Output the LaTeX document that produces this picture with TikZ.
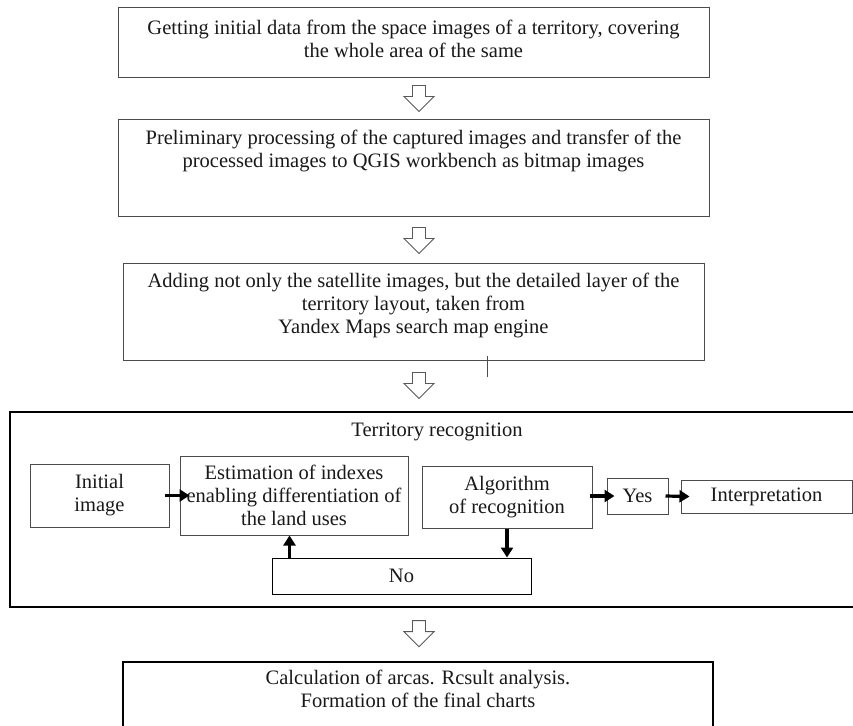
\documentclass[tikz,border=0pt]{standalone}
\usepackage{fontspec}
\setmainfont{Liberation Serif}
\usetikzlibrary{arrows.meta,calc}
\begin{document}
\begin{tikzpicture}[x=1pt,y=-1pt,
  box/.style={draw=black!70, line width=1pt, inner sep=0pt, align=center,
    font=\fontsize{20.5}{23}\selectfont, text=black!90},
  bbox/.style={box, draw=black, line width=1.3pt},
  txt/.style={align=center, font=\fontsize{20.5}{23}\selectfont, text=black!90, inner sep=0pt},
  flow/.style={line width=3.2pt, -{Triangle[length=10pt,width=12pt]}},
  hollow/.style={draw=black!65, line width=0.9pt, fill=white, line join=miter},
  harrow/.pic={\draw[hollow] (-6.5,0) -- (6.5,0) -- (6.5,11) -- (15,11) -- (0,26) -- (-15,11) -- (-6.5,11) -- cycle;}
]
\clip (0,0) rectangle (853,725);
\fill[white] (0,0) rectangle (853,725);

% main boxes
\node[box, minimum width=591, minimum height=69] (b1) at (413.5,42.5) {};
\node[box, minimum width=591, minimum height=97] (b2) at (413.5,167.5) {};
\node[box, minimum width=581, minimum height=97] (b3) at (413.5,311.5) {};
\node[bbox, minimum width=870, minimum height=195] (outer) at (445,509.5) {};
\node[bbox, minimum width=590, minimum height=90] (b5) at (418,707) {};

\node[txt] (t1) at (413.5,38.5) {Getting initial data from the space images of a territory, covering\\the whole area of the same};
\node[txt] (t2) at (413.5,151) {Preliminary processing of the captured images and transfer of the\\processed images to QGIS workbench as bitmap images};
\node[txt] (t3) at (413.5,305) {Adding not only the satellite images, but the detailed layer of the\\territory layout, taken from\\Yandex Maps search map engine};
\node[txt] (t4) at (437,432) {Territory recognition};
\node[txt] (t5) at (418,689) {Calculation of arcas. Rcsult analysis.\\Formation of the final charts};

% inner boxes
\node[box, minimum width=139, minimum height=63] (init) at (99.5,495.5) {Initial\\image};
\node[box, minimum width=228, minimum height=79] (est) at (294,495.5) {Estimation of indexes\\enabling differentiation of\\the land uses};
\node[box, minimum width=170, minimum height=62] (alg) at (507,497) {Algorithm\\of recognition};
\node[box, minimum width=61, minimum height=36] (yes) at (637.5,496) {Yes};
\node[box, minimum width=171, minimum height=33] (interp) at (766.5,496.5) {Interpretation};
\node[box, draw=black, minimum width=259, minimum height=36] (no) at (401.5,576) {No};

% stray mark
\coordinate (m1) at ($(b3.south)+(73.5,-5)$);
\coordinate (m2) at ($(b3.south)+(73.5,16)$);
\draw[black!70, line width=1pt] (m1) -- (m2);

% hollow arrows
\pic at ($(b1.south)+(5.5,8)$) {harrow};
\pic at ($(b2.south)+(5.5,11)$) {harrow};
\pic at ($(b3.south)+(5.5,12)$) {harrow};
\pic at ($(outer.south)+(-26,13)$) {harrow};

% flow arrows
\draw[flow] ($(init.east)+(-5,0)$) -- ($(est.west)+(10,0)$);
\draw[flow] ($(alg.east|-yes.west)+(-3,0)$) -- ($(yes.west)+(8,0)$);
\draw[flow] ($(yes.east)+(-3,0)$) -- ($(interp.west)+(9,0)$);
\coordinate (u) at ($(no.north west)+(18,0)$);
\draw[flow] (u) -- (u |- est.south);
\draw[flow] (alg.south) -- (alg.south |- no.north);
\end{tikzpicture}
\end{document}
